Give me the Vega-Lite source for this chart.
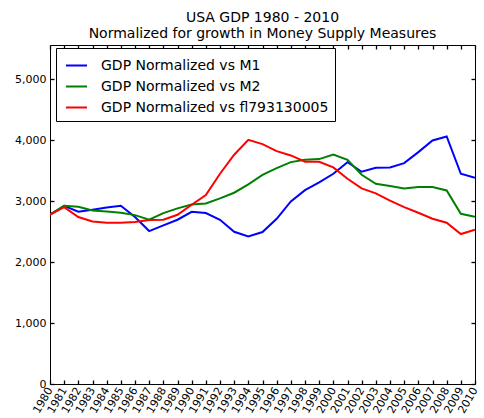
{
  "$schema": "https://vega.github.io/schema/vega-lite/v6.json",
  "width": 425,
  "height": 339,
  "autosize": "none",
  "padding": {"left": 50, "top": 45, "right": 9, "bottom": 34},
  "background": "white",
  "config": {
    "font": "DejaVu Sans",
    "view": {"stroke": "black", "strokeWidth": 1},
    "axis": {"grid": false, "domain": false, "ticks": true, "tickColor": "black", "tickOpacity": 1, "labelColor": "black", "labelFont": "DejaVu Sans", "labelFontSize": 11, "tickSize": 4, "tickWidth": 1.3, "offset": -4}
  },
  "title": {
    "text": ["USA GDP 1980 - 2010", "Normalized for growth in Money Supply Measures"],
    "fontSize": 14,
    "fontWeight": "normal",
    "font": "DejaVu Sans",
    "color": "black",
    "anchor": "middle",
    "lineHeight": 16,
    "offset": 3
  },
  "data": {
    "values": [
      {"year": 1980, "series": "GDP Normalized vs M1", "value": 2776},
      {"year": 1981, "series": "GDP Normalized vs M1", "value": 2923},
      {"year": 1982, "series": "GDP Normalized vs M1", "value": 2825},
      {"year": 1983, "series": "GDP Normalized vs M1", "value": 2858},
      {"year": 1984, "series": "GDP Normalized vs M1", "value": 2896},
      {"year": 1985, "series": "GDP Normalized vs M1", "value": 2923},
      {"year": 1986, "series": "GDP Normalized vs M1", "value": 2738},
      {"year": 1987, "series": "GDP Normalized vs M1", "value": 2508},
      {"year": 1988, "series": "GDP Normalized vs M1", "value": 2601},
      {"year": 1989, "series": "GDP Normalized vs M1", "value": 2694},
      {"year": 1990, "series": "GDP Normalized vs M1", "value": 2825},
      {"year": 1991, "series": "GDP Normalized vs M1", "value": 2803},
      {"year": 1992, "series": "GDP Normalized vs M1", "value": 2694},
      {"year": 1993, "series": "GDP Normalized vs M1", "value": 2497},
      {"year": 1994, "series": "GDP Normalized vs M1", "value": 2421},
      {"year": 1995, "series": "GDP Normalized vs M1", "value": 2492},
      {"year": 1996, "series": "GDP Normalized vs M1", "value": 2710},
      {"year": 1997, "series": "GDP Normalized vs M1", "value": 2995},
      {"year": 1998, "series": "GDP Normalized vs M1", "value": 3180},
      {"year": 1999, "series": "GDP Normalized vs M1", "value": 3306},
      {"year": 2000, "series": "GDP Normalized vs M1", "value": 3448},
      {"year": 2001, "series": "GDP Normalized vs M1", "value": 3639},
      {"year": 2002, "series": "GDP Normalized vs M1", "value": 3481},
      {"year": 2003, "series": "GDP Normalized vs M1", "value": 3546},
      {"year": 2004, "series": "GDP Normalized vs M1", "value": 3552},
      {"year": 2005, "series": "GDP Normalized vs M1", "value": 3623},
      {"year": 2006, "series": "GDP Normalized vs M1", "value": 3803},
      {"year": 2007, "series": "GDP Normalized vs M1", "value": 3995},
      {"year": 2008, "series": "GDP Normalized vs M1", "value": 4060},
      {"year": 2009, "series": "GDP Normalized vs M1", "value": 3448},
      {"year": 2010, "series": "GDP Normalized vs M1", "value": 3383},
      {"year": 1980, "series": "GDP Normalized vs M2", "value": 2776},
      {"year": 1981, "series": "GDP Normalized vs M2", "value": 2923},
      {"year": 1982, "series": "GDP Normalized vs M2", "value": 2907},
      {"year": 1983, "series": "GDP Normalized vs M2", "value": 2847},
      {"year": 1984, "series": "GDP Normalized vs M2", "value": 2830},
      {"year": 1985, "series": "GDP Normalized vs M2", "value": 2809},
      {"year": 1986, "series": "GDP Normalized vs M2", "value": 2770},
      {"year": 1987, "series": "GDP Normalized vs M2", "value": 2694},
      {"year": 1988, "series": "GDP Normalized vs M2", "value": 2803},
      {"year": 1989, "series": "GDP Normalized vs M2", "value": 2880},
      {"year": 1990, "series": "GDP Normalized vs M2", "value": 2945},
      {"year": 1991, "series": "GDP Normalized vs M2", "value": 2962},
      {"year": 1992, "series": "GDP Normalized vs M2", "value": 3044},
      {"year": 1993, "series": "GDP Normalized vs M2", "value": 3137},
      {"year": 1994, "series": "GDP Normalized vs M2", "value": 3274},
      {"year": 1995, "series": "GDP Normalized vs M2", "value": 3430},
      {"year": 1996, "series": "GDP Normalized vs M2", "value": 3541},
      {"year": 1997, "series": "GDP Normalized vs M2", "value": 3639},
      {"year": 1998, "series": "GDP Normalized vs M2", "value": 3678},
      {"year": 1999, "series": "GDP Normalized vs M2", "value": 3689},
      {"year": 2000, "series": "GDP Normalized vs M2", "value": 3765},
      {"year": 2001, "series": "GDP Normalized vs M2", "value": 3678},
      {"year": 2002, "series": "GDP Normalized vs M2", "value": 3432},
      {"year": 2003, "series": "GDP Normalized vs M2", "value": 3284},
      {"year": 2004, "series": "GDP Normalized vs M2", "value": 3246},
      {"year": 2005, "series": "GDP Normalized vs M2", "value": 3208},
      {"year": 2006, "series": "GDP Normalized vs M2", "value": 3230},
      {"year": 2007, "series": "GDP Normalized vs M2", "value": 3230},
      {"year": 2008, "series": "GDP Normalized vs M2", "value": 3175},
      {"year": 2009, "series": "GDP Normalized vs M2", "value": 2792},
      {"year": 2010, "series": "GDP Normalized vs M2", "value": 2743},
      {"year": 1980, "series": "GDP Normalized vs fl793130005", "value": 2776},
      {"year": 1981, "series": "GDP Normalized vs fl793130005", "value": 2902},
      {"year": 1982, "series": "GDP Normalized vs fl793130005", "value": 2738},
      {"year": 1983, "series": "GDP Normalized vs fl793130005", "value": 2667},
      {"year": 1984, "series": "GDP Normalized vs fl793130005", "value": 2645},
      {"year": 1985, "series": "GDP Normalized vs fl793130005", "value": 2645},
      {"year": 1986, "series": "GDP Normalized vs fl793130005", "value": 2656},
      {"year": 1987, "series": "GDP Normalized vs fl793130005", "value": 2689},
      {"year": 1988, "series": "GDP Normalized vs fl793130005", "value": 2694},
      {"year": 1989, "series": "GDP Normalized vs fl793130005", "value": 2776},
      {"year": 1990, "series": "GDP Normalized vs fl793130005", "value": 2940},
      {"year": 1991, "series": "GDP Normalized vs fl793130005", "value": 3098},
      {"year": 1992, "series": "GDP Normalized vs fl793130005", "value": 3448},
      {"year": 1993, "series": "GDP Normalized vs fl793130005", "value": 3760},
      {"year": 1994, "series": "GDP Normalized vs fl793130005", "value": 4005},
      {"year": 1995, "series": "GDP Normalized vs fl793130005", "value": 3934},
      {"year": 1996, "series": "GDP Normalized vs fl793130005", "value": 3820},
      {"year": 1997, "series": "GDP Normalized vs fl793130005", "value": 3749},
      {"year": 1998, "series": "GDP Normalized vs fl793130005", "value": 3645},
      {"year": 1999, "series": "GDP Normalized vs fl793130005", "value": 3645},
      {"year": 2000, "series": "GDP Normalized vs fl793130005", "value": 3552},
      {"year": 2001, "series": "GDP Normalized vs fl793130005", "value": 3366},
      {"year": 2002, "series": "GDP Normalized vs fl793130005", "value": 3208},
      {"year": 2003, "series": "GDP Normalized vs fl793130005", "value": 3126},
      {"year": 2004, "series": "GDP Normalized vs fl793130005", "value": 3006},
      {"year": 2005, "series": "GDP Normalized vs fl793130005", "value": 2902},
      {"year": 2006, "series": "GDP Normalized vs fl793130005", "value": 2809},
      {"year": 2007, "series": "GDP Normalized vs fl793130005", "value": 2710},
      {"year": 2008, "series": "GDP Normalized vs fl793130005", "value": 2645},
      {"year": 2009, "series": "GDP Normalized vs fl793130005", "value": 2459},
      {"year": 2010, "series": "GDP Normalized vs fl793130005", "value": 2530}
    ]
  },
  "layer": [
    {
      "mark": {"type": "line", "strokeWidth": 2, "clip": true},
      "encoding": {
        "x": {
          "field": "year", "type": "quantitative",
          "scale": {"domain": [1980, 2010], "nice": false, "zero": false},
          "axis": {
            "title": null,
            "orient": "bottom",
            "values": [1980,1981,1982,1983,1984,1985,1986,1987,1988,1989,1990,1991,1992,1993,1994,1995,1996,1997,1998,1999,2000,2001,2002,2003,2004,2005,2006,2007,2008,2009,2010],
            "format": "d",
            "labelAngle": -60,
            "labelAlign": "right",
            "labelBaseline": "middle",
            "labelPadding": 4,
            "labelOverlap": false,
            "labelFlush": false
          }
        },
        "y": {
          "field": "value", "type": "quantitative",
          "scale": {"domain": [0, 5560], "nice": false},
          "axis": {
            "title": null,
            "orient": "left",
            "values": [0, 1000, 2000, 3000, 4000, 5000],
            "format": ",d",
            "labelPadding": 4,
            "labelFlush": false
          }
        },
        "color": {
          "field": "series", "type": "nominal",
          "scale": {
            "domain": ["GDP Normalized vs M1", "GDP Normalized vs M2", "GDP Normalized vs fl793130005"],
            "range": ["#0000ff", "#008000", "#ff0000"]
          },
          "legend": {
            "title": null,
            "orient": "none",
            "legendX": 6,
            "legendY": 3,
            "strokeColor": "black",
            "fillColor": "white",
            "padding": 6,
            "symbolType": "stroke",
            "symbolSize": 441,
            "symbolOffset": 3,
            "symbolStrokeWidth": 2,
            "labelFontSize": 14,
            "labelFont": "DejaVu Sans",
            "labelColor": "black",
            "labelOffset": 13,
            "rowPadding": 2,
            "labelLimit": 400
          }
        }
      }
    },
    {
      "mark": {"type": "line", "strokeWidth": 2, "opacity": 0},
      "encoding": {
        "x": {
          "field": "year", "type": "quantitative",
          "axis": {
            "title": null,
            "orient": "top",
            "values": [1980,1981,1982,1983,1984,1985,1986,1987,1988,1989,1990,1991,1992,1993,1994,1995,1996,1997,1998,1999,2000,2001,2002,2003,2004,2005,2006,2007,2008,2009,2010],
            "labels": false
          }
        },
        "y": {
          "field": "value", "type": "quantitative",
          "axis": {
            "title": null,
            "orient": "right",
            "values": [0, 1000, 2000, 3000, 4000, 5000],
            "labels": false
          }
        },
        "detail": {"field": "series", "type": "nominal"}
      }
    }
  ],
  "resolve": {"axis": {"x": "independent", "y": "independent"}}
}
